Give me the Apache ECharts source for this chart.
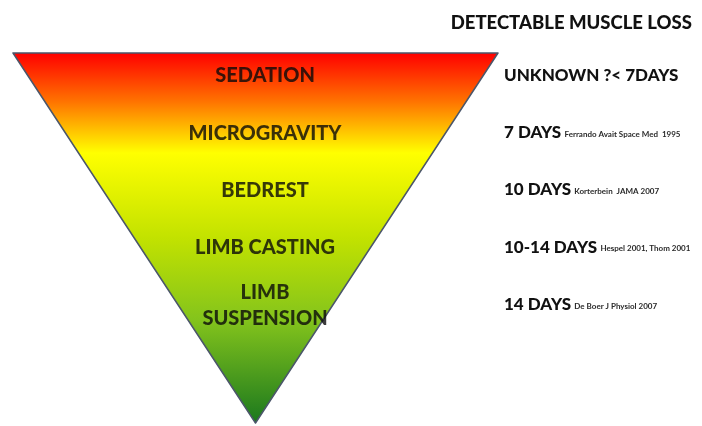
<!DOCTYPE html>
<html lang="en">
<head>
    <meta charset="UTF-8">
    <title>Detectable muscle loss</title>
    <script type="text/javascript" src="https://cdn.jsdelivr.net/npm/echarts@6/dist/echarts.min.js"></script>
    <style>
        html, body { margin: 0; padding: 0; background: #fff; }
    </style>
</head>
<body>
<div id="main" style="width: 702px;height: 426px"></div>
</body>
</html>
<script type="text/javascript">
    // conditions inside the triangle (top -> bottom)
    var conditions = ['SEDATION', 'MICROGRAVITY', 'BEDREST', 'LIMB CASTING', 'LIMB\nSUSPENSION'];
    // time until muscle loss is detectable
    var onsets = ['UNKNOWN ?< 7DAYS', '7 DAYS', '10 DAYS', '10-14 DAYS', '14 DAYS'];
    var sources = ['', 'Ferrando Avait Space Med  1995', 'Korterbein  JAMA 2007', 'Hespel 2001, Thom 2001', 'De Boer J Physiol 2007'];
    var columns = ['condition', 'onset'];
    // single funnel piece -> the triangle
    var pyramid = [{name: 'disuse', value: 1}];

    var font = 'Lato, "Open Sans", sans-serif';

    var myChart = echarts.init(document.getElementById('main'));
    var option = {
        animation: false,
        backgroundColor: '#ffffff',
        title: {
            text: 'DETECTABLE MUSCLE LOSS',
            right: 5,
            top: 9,
            textStyle: {fontFamily: font, fontWeight: 900, fontSize: 18.5, color: '#111111'}
        },
        grid: {left: 141, width: 484, top: 45, height: 287},
        xAxis: {type: 'category', data: columns, show: false},
        yAxis: {type: 'category', data: conditions, inverse: true, show: false},
        series: [
            {
                type: 'funnel',
                silent: true,
                left: 13,
                top: 53,
                width: 485,
                height: 370,
                min: 0,
                max: 1,
                minSize: '0%',
                maxSize: '100%',
                sort: 'descending',
                gap: 0,
                label: {show: false},
                labelLine: {show: false},
                itemStyle: {
                    borderColor: '#4b566a',
                    borderWidth: 1.5,
                    color: {
                        type: 'linear', x: 0, y: 53, x2: 0, y2: 423, global: true,
                        colorStops: [
                            {offset: 0, color: '#ff0000'},
                            {offset: 0.13, color: '#ff7200'},
                            {offset: 0.27, color: '#ffff00'},
                            {offset: 0.5, color: '#c2e200'},
                            {offset: 0.72, color: '#84c41c'},
                            {offset: 1, color: '#1b781e'}
                        ]
                    }
                },
                data: pyramid
            },
            {
                type: 'scatter',
                silent: true,
                symbolSize: 0,
                itemStyle: {opacity: 1},
                label: {
                    show: true,
                    position: 'inside',
                    align: 'center',
                    verticalAlign: 'middle',
                    offset: [3, 2],
                    fontFamily: font,
                    fontWeight: 900,
                    fontSize: 20,
                    lineHeight: 26,
                    color: 'rgba(10,10,10,0.8)',
                    formatter: function (p) { return conditions[p.dataIndex]; }
                },
                data: conditions.map(function (c, i) { return [columns[0], c]; })
            },
            {
                type: 'scatter',
                silent: true,
                symbolSize: 0,
                itemStyle: {opacity: 1},
                label: {
                    show: true,
                    position: 'inside',
                    align: 'left',
                    verticalAlign: 'middle',
                    color: '#111111',
                    formatter: function (p) {
                        var s = '{a|' + onsets[p.dataIndex] + '}';
                        if (sources[p.dataIndex]) s += ' {b|' + sources[p.dataIndex] + '}';
                        return s;
                    },
                    rich: {
                        a: {fontFamily: font, fontWeight: 900, fontSize: 17, color: '#111111', verticalAlign: 'bottom', lineHeight: 20},
                        b: {fontFamily: font, fontWeight: 'bold', fontSize: 8, color: '#2a2a2a', verticalAlign: 'bottom', lineHeight: 20, padding: [0, 0, 3, 0]}
                    }
                },
                data: conditions.map(function (c, i) { return [columns[1], c]; })
            }
        ]
    };
    myChart.setOption(option);
</script>
